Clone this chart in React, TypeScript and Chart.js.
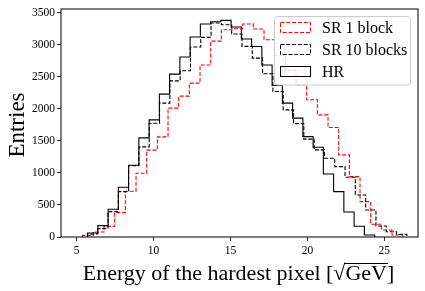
import React, { useEffect, useRef } from 'react';
import { Chart, registerables } from 'chart.js';

Chart.register(...registerables);

// ---- data ----
const sr1Start = 5.39;
const sr1BinWidth = 0.6935;
const sr1Counts = [
  25, 78, 165, 380, 714, 995, 1355, 1563, 2011, 2198,
  2402, 2683, 3057, 3234, 3250, 3323, 3245, 3078, 2828, 2600,
  2375, 2141, 1906, 1708, 1281, 942, 552, 200, 109, 31,
];

const sr10Start = 5.696;
const sr10BinWidth = 0.67;
const sr10Counts = [
  47, 130, 396, 708, 1114, 1406, 1776, 2089, 2437, 2594,
  2964, 3115, 3339, 3312, 3167, 2974, 2792, 2547, 2271, 1984,
  1770, 1527, 1359, 1230, 1099, 933, 656, 422, 172, 83, 42,
];

const hrStart = 5.71;
const hrBinWidth = 0.6664;
const hrCounts = [
  62, 178, 433, 777, 1120, 1547, 1828, 2230, 2542, 2808,
  3120, 3323, 3359, 3380, 3276, 3089, 2973, 2683, 2365, 2089,
  1855, 1567, 1401, 984, 708, 390, 168, 31,
];

const xTicks = [5, 10, 15, 20, 25];
const yTicks = [0, 500, 1000, 1500, 2000, 2500, 3000, 3500];
const xMin = 3.98;
const xMax = 27.19;
const yMax = 3558;

const seriesLabels = ['SR 1 block', 'SR 10 blocks', 'HR'];
const xLabelMain = 'Energy of the hardest pixel [';
const xLabelRoot = '\u221A';
const xLabelUnit = 'GeV';
const xLabelEnd = ']';
const yLabel = 'Entries';

const SERIF = '"Liberation Serif", "DejaVu Serif", serif';

function stepPoints(start: number, width: number, counts: number[]) {
  const pts: { x: number; y: number }[] = [{ x: start, y: 0 }];
  counts.forEach((c, i) => pts.push({ x: start + i * width, y: c }));
  const end = start + counts.length * width;
  pts.push({ x: end, y: counts[counts.length - 1] });
  pts.push({ x: end, y: 0 });
  return pts;
}

const styles = [
  { color: '#ff0000', dash: [4, 1.8] },
  { color: '#000000', dash: [4, 1.8] },
  { color: '#000000', dash: [] as number[] },
];

const framePlugin = {
  id: 'frameAndText',
  afterDatasetsDraw(chart: any) {
    const { ctx, chartArea } = chart;
    const { left, right, top, bottom } = chartArea;
    ctx.save();
    // frame
    ctx.strokeStyle = '#000';
    ctx.lineWidth = 1;
    ctx.setLineDash([]);
    ctx.strokeRect(left, top, right - left, bottom - top);

    // legend
    const lx = 274.5, ly = 16.5, lw = 136, lh = 68.5, r = 3;
    ctx.beginPath();
    ctx.moveTo(lx + r, ly);
    ctx.lineTo(lx + lw - r, ly);
    ctx.quadraticCurveTo(lx + lw, ly, lx + lw, ly + r);
    ctx.lineTo(lx + lw, ly + lh - r);
    ctx.quadraticCurveTo(lx + lw, ly + lh, lx + lw - r, ly + lh);
    ctx.lineTo(lx + r, ly + lh);
    ctx.quadraticCurveTo(lx, ly + lh, lx, ly + lh - r);
    ctx.lineTo(lx, ly + r);
    ctx.quadraticCurveTo(lx, ly, lx + r, ly);
    ctx.closePath();
    ctx.fillStyle = 'rgba(255,255,255,0.8)';
    ctx.fill();
    ctx.strokeStyle = '#cccccc';
    ctx.lineWidth = 1;
    ctx.stroke();

    const rowY = [27.5, 49.5, 71.5];
    ctx.font = `16px ${SERIF}`;
    ctx.textBaseline = 'middle';
    ctx.textAlign = 'left';
    seriesLabels.forEach((lab, i) => {
      ctx.strokeStyle = styles[i].color;
      ctx.lineWidth = 1;
      ctx.setLineDash(styles[i].dash);
      ctx.strokeRect(280.5, rowY[i] - 5, 30, 10);
      ctx.setLineDash([]);
      ctx.fillStyle = '#000';
      ctx.fillText(lab, 322, rowY[i] + 1);
    });

    // x label
    ctx.font = `22px ${SERIF}`;
    ctx.textBaseline = 'alphabetic';
    ctx.fillStyle = '#000';
    const wMain = ctx.measureText(xLabelMain).width;
    const wRoot = ctx.measureText(xLabelRoot).width;
    const wUnit = ctx.measureText(xLabelUnit).width;
    const wEnd = ctx.measureText(xLabelEnd).width;
    const total = wMain + wRoot + wUnit + wEnd;
    const cx = (left + right) / 2 - 1;
    let x0 = cx - total / 2;
    const base = 280;
    ctx.textAlign = 'left';
    ctx.fillText(xLabelMain, x0, base);
    x0 += wMain;
    ctx.fillText(xLabelRoot, x0, base);
    x0 += wRoot;
    ctx.fillText(xLabelUnit, x0, base);
    ctx.beginPath();
    ctx.lineWidth = 1;
    ctx.moveTo(x0 - 1, base - 16.5);
    ctx.lineTo(x0 + wUnit + 1, base - 16.5);
    ctx.stroke();
    x0 += wUnit;
    ctx.fillText(xLabelEnd, x0, base);

    // y label
    ctx.save();
    ctx.font = `23px ${SERIF}`;
    ctx.translate(24, (top + bottom) / 2 + 2);
    ctx.rotate(-Math.PI / 2);
    ctx.textAlign = 'center';
    ctx.fillText(yLabel, 0, 0);
    ctx.restore();

    ctx.restore();
  },
};

export default function App() {
  const canvasRef = useRef<HTMLCanvasElement | null>(null);

  useEffect(() => {
    document.body.style.margin = '0';
    const canvas = canvasRef.current;
    if (!canvas) return;
    const seriesData = [
      stepPoints(sr1Start, sr1BinWidth, sr1Counts),
      stepPoints(sr10Start, sr10BinWidth, sr10Counts),
      stepPoints(hrStart, hrBinWidth, hrCounts),
    ];
    const chart = new Chart(canvas, {
      type: 'line',
      data: {
        datasets: seriesData.map((d, i) => ({
          label: seriesLabels[i],
          data: d,
          borderColor: styles[i].color,
          borderDash: styles[i].dash,
          borderWidth: 1.1,
          backgroundColor: 'transparent',
          fill: false,
          pointRadius: 0,
          stepped: 'before' as const,
          tension: 0,
          order: 2 - i,
        })),
      },
      options: {
        animation: false,
        responsive: false,
        maintainAspectRatio: false,
        devicePixelRatio: 1,
        layout: { padding: { top: 9, right: 7, left: 0, bottom: 0 } },
        plugins: {
          legend: { display: false },
          tooltip: { enabled: false },
        },
        scales: {
          x: {
            type: 'linear',
            min: xMin,
            max: xMax,
            afterFit: (s: any) => { s.height = 54; },
            afterBuildTicks: (s: any) => { s.ticks = xTicks.map((v) => ({ value: v })); },
            grid: {
              display: true,
              drawOnChartArea: false,
              drawTicks: true,
              tickLength: 4,
              color: '#000',
              lineWidth: 0.8,
            },
            border: { display: false },
            ticks: {
              color: '#000',
              font: { family: SERIF, size: 11.5 },
              padding: 3,
              maxRotation: 0,
              callback: (v: any) => String(v),
            },
          },
          y: {
            type: 'linear',
            min: 0,
            max: yMax,
            afterFit: (s: any) => { s.width = 61; },
            afterBuildTicks: (s: any) => { s.ticks = yTicks.map((v) => ({ value: v })); },
            grid: {
              display: true,
              drawOnChartArea: false,
              drawTicks: true,
              tickLength: 4,
              color: '#000',
              lineWidth: 0.8,
            },
            border: { display: false },
            ticks: {
              color: '#000',
              font: { family: SERIF, size: 11.5 },
              padding: 2,
              callback: (v: any) => String(v),
            },
          },
        },
      },
      plugins: [framePlugin],
    } as any);
    return () => chart.destroy();
  }, []);

  return (
    <div style={{ width: 425, height: 291 }}>
      <canvas ref={canvasRef} width={425} height={291} style={{ width: 425, height: 291, display: 'block' }} />
    </div>
  );
}
